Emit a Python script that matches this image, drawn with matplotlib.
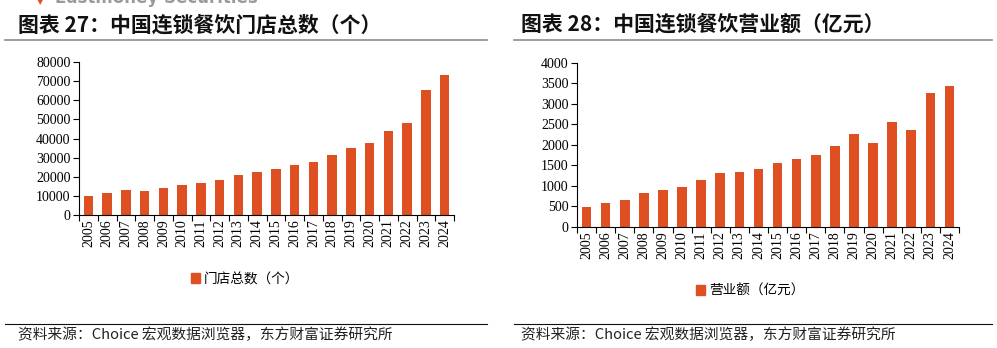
import matplotlib
matplotlib.use("Agg")
import matplotlib.pyplot as plt
from matplotlib.lines import Line2D
from matplotlib.patches import Patch

plt.rcParams["font.family"] = ["Noto Sans CJK SC", "DejaVu Sans"]

years = [str(y) for y in range(2005, 2025)]
stores = [10000, 11700, 13100, 12800, 14100, 15500, 16600, 18500, 21000, 22700,
          24100, 25900, 27800, 31300, 34800, 37600, 43800, 48000, 65200, 73200]
revenue = [478, 583, 664, 826, 899, 980, 1142, 1312, 1336, 1417,
           1547, 1660, 1757, 1976, 2259, 2040, 2551, 2356, 3271, 3441]

title_left = "图表 27：中国连锁餐饮门店总数（个）"
title_right = "图表 28：中国连锁餐饮营业额（亿元）"
legend_left = "门店总数（个）"
legend_right = "营业额（亿元）"
source = "资料来源：Choice 宏观数据浏览器，东方财富证券研究所"

BAR = "#DE4F21"
W, H = 997, 348

fig = plt.figure(figsize=(W / 100, H / 100), dpi=100)


def px(x0, y0, x1, y1):
    # pixel box (top-left origin) -> figure fraction rect
    return [x0 / W, 1 - y1 / H, (x1 - x0) / W, (y1 - y0) / H]


def draw_panel(rect, values, ymax, ystep, leg_label, leg_xy):
    ax = fig.add_axes(rect)
    xs = list(range(len(years)))
    ax.bar(xs, values, width=0.5, color=BAR, zorder=2)
    ax.set_xlim(-0.5, len(years) - 0.5)
    ax.set_ylim(0, ymax)
    ax.set_yticks(range(0, ymax + 1, ystep))
    ax.set_xticks(xs)
    ax.set_xticklabels(years, rotation=90, family="Liberation Serif", fontsize=10)
    ax.set_xticks([x + 0.5 for x in range(-1, len(years))], minor=True)
    ax.tick_params(axis="x", which="major", length=0, pad=3)
    ax.tick_params(axis="x", which="minor", length=4, width=0.8, direction="out")
    ax.tick_params(axis="y", length=4, width=0.8, direction="out", pad=2)
    for lab in ax.get_yticklabels():
        lab.set_family("Liberation Serif")
        lab.set_fontsize(10)
    for s in ["top", "right"]:
        ax.spines[s].set_visible(False)
    for s in ["left", "bottom"]:
        ax.spines[s].set_linewidth(0.8)
    fig.legend(handles=[Patch(color=BAR, label=leg_label)], loc="center",
               bbox_to_anchor=(leg_xy[0] / W, 1 - leg_xy[1] / H), frameon=False,
               fontsize=9.8, handlelength=0.7, handleheight=0.7, handletextpad=0.3)
    return ax


draw_panel(px(79, 62, 454, 215), stores, 80000, 10000, legend_left, (245, 279))
draw_panel(px(577, 62.7, 959, 227), revenue, 4000, 500, legend_right, (750, 291))

# titles, separators, source lines
for x0, x1, tx, title in [(5, 487, 18, title_left), (514, 992, 521, title_right)]:
    fig.text(tx / W, 1 - 25 / H, title, fontsize=15, fontweight="bold",
             va="center", ha="left", color="#111111")
    fig.add_artist(Line2D([x0 / W, x1 / W], [1 - 40 / H] * 2, color="#8c8c8c", lw=1.2))
    fig.add_artist(Line2D([x0 / W, x1 / W], [1 - 324 / H] * 2, color="#111111", lw=0.8))
    fig.text(tx / W, 1 - 335 / H, source, fontsize=10.6, va="center", ha="left",
             color="#222222")

# clipped broker logo at very top
fig.text(55 / W, 1 + 2 / H, "Eastmoney Securities", fontsize=12, fontweight="bold",
         color="#9a9a9a", va="center", ha="left", family="DejaVu Sans")
fig.text(40 / W, 1 - 2 / H, "\u25BC", fontsize=6, color="#E0502A",
         va="center", ha="center", family="DejaVu Sans")

fig.savefig("out.png", dpi=100)
